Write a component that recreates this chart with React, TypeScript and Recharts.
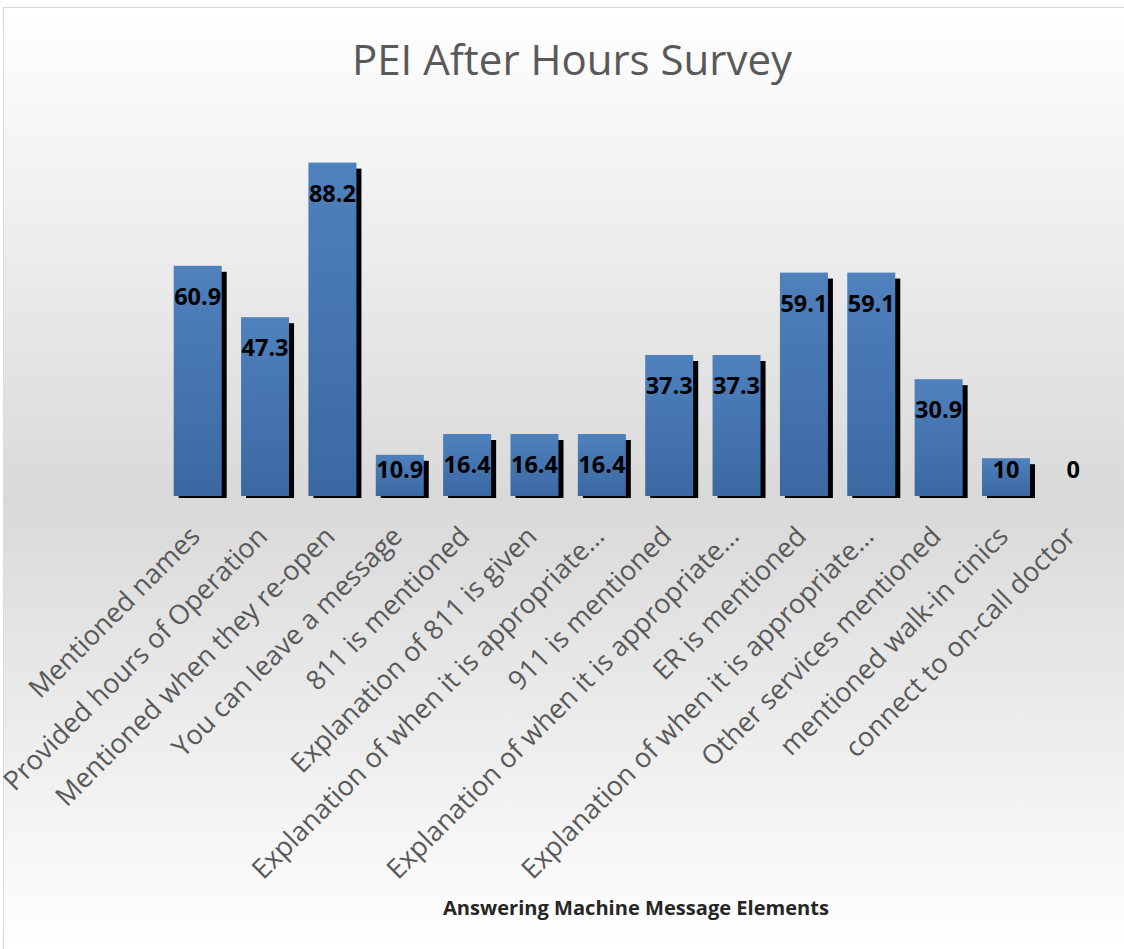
import React from "react";
import { BarChart, Bar, XAxis, YAxis, LabelList } from "recharts";

const categories = [
  "Mentioned names",
  "Provided hours of Operation",
  "Mentioned when they re-open",
  "You can leave a message",
  "811 is mentioned",
  "Explanation of 811 is given",
  "Explanation of when it is appropriate…",
  "911 is mentioned",
  "Explanation of when it is appropriate…",
  "ER is mentioned",
  "Explanation of when it is appropriate…",
  "Other services mentioned",
  "mentioned walk-in cinics",
  "connect to on-call doctor",
];

const values = [60.9, 47.3, 88.2, 10.9, 16.4, 16.4, 16.4, 37.3, 37.3, 59.1, 59.1, 30.9, 10, 0];

const chartTitle = "PEI After Hours Survey";
const xAxisTitle = "Answering Machine Message Elements";

const data = categories.map((name, i) => ({ name, value: values[i] }));

const FONT = "'Open Sans', 'Noto Sans', sans-serif";

const BarShape = (props: any) => {
  const { x, y, width, height } = props;
  if (!height || height <= 0) return <g />;
  return (
    <g>
      <rect x={x + 5} y={y + 6} width={width} height={Math.max(0, height - 4)} fill="#000" />
      <rect x={x} y={y} width={width} height={height} fill="url(#barGrad)" />
    </g>
  );
};

const ValueLabel = (props: any) => {
  const { x, y, width, height, value } = props;
  const base = y + height;
  const cy = Math.min(y + 30, base - 27);
  return (
    <text
      x={x + width / 2}
      y={cy}
      textAnchor="middle"
      dominantBaseline="central"
      fontFamily={FONT}
      fontWeight="bold"
      fontSize={23.5}
      fill="#000"
    >
      {value}
    </text>
  );
};

const Tick = (props: any) => {
  const { x, y, payload } = props;
  const ax = x + 4;
  const ay = y + 34;
  return (
    <text
      x={ax}
      y={ay}
      transform={`rotate(-45, ${ax}, ${ay})`}
      textAnchor="end"
      fontFamily={FONT}
      fontSize={27}
      fill="#595959"
    >
      {payload.value}
    </text>
  );
};

export default function App() {
  return (
    <div style={{ position: "absolute", left: 0, top: 0, width: 1124, height: 949, background: "#fff", overflow: "hidden" }}>
      <div
        style={{
          position: "absolute",
          left: 3,
          top: 7,
          width: 1130,
          height: 950,
          boxSizing: "border-box",
          border: "1px solid #d9d9d9",
          background: "linear-gradient(to bottom, #ffffff 0px, #d9d9d9 493px, #ffffff 942px)",
        }}
      />
      <div style={{ position: "absolute", left: 0, top: 0 }}>
        <BarChart
          width={1124}
          height={949}
          data={data}
          margin={{ top: 118, right: 17, left: 164, bottom: 53 }}
          barCategoryGap="14.4%"
        >
          <defs>
            <linearGradient id="barGrad" x1="0" y1="0" x2="0" y2="1">
              <stop offset="0%" stopColor="#4f81bd" />
              <stop offset="100%" stopColor="#3b68a3" />
            </linearGradient>
          </defs>
          <YAxis hide domain={[0, 100]} />
          <XAxis
            dataKey="name"
            interval={0}
            height={400}
            axisLine={false}
            tickLine={false}
            tick={<Tick />}
          />
          <Bar dataKey="value" isAnimationActive={false} shape={<BarShape />}>
            <LabelList dataKey="value" content={<ValueLabel />} />
          </Bar>
        </BarChart>
      </div>
      <svg
        width={1124}
        height={949}
        style={{ position: "absolute", left: 0, top: 0, pointerEvents: "none" }}
      >
        <text x={572} y={75} textAnchor="middle" fontFamily={FONT} fontSize={42} fill="#595959">
          {chartTitle}
        </text>
        <text
          x={636}
          y={915}
          textAnchor="middle"
          fontFamily={FONT}
          fontWeight="bold"
          fontSize={19}
          fill="#262626"
          textLength={386}
          lengthAdjust="spacingAndGlyphs"
        >
          {xAxisTitle}
        </text>
      </svg>
    </div>
  );
}
